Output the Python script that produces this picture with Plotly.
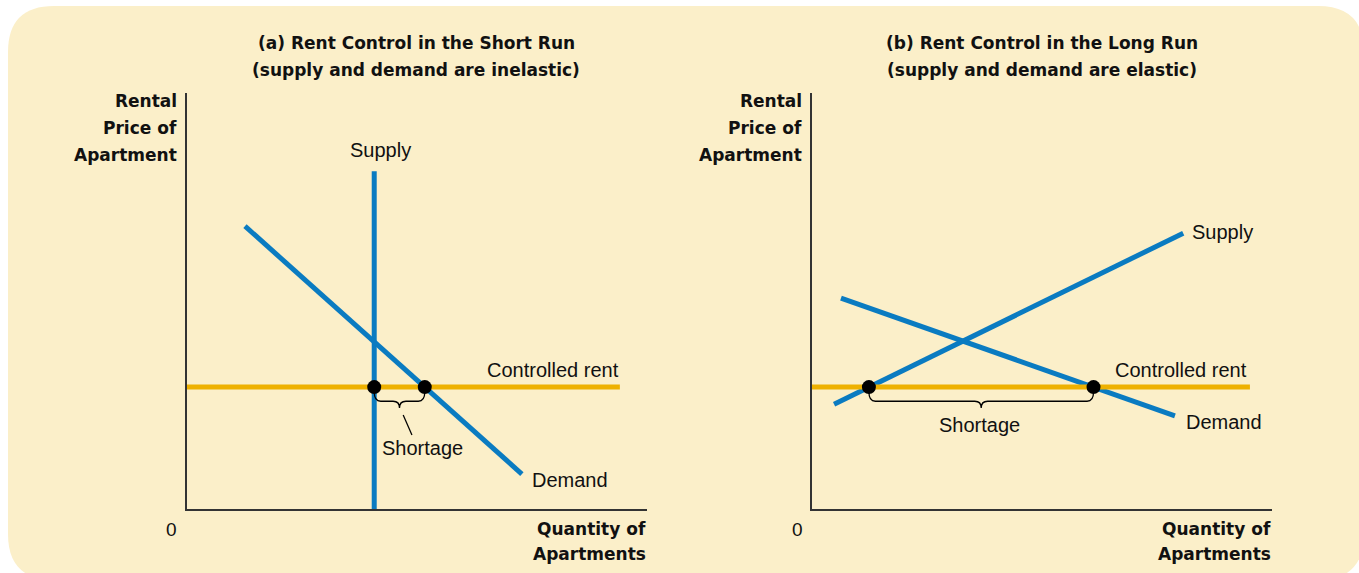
import plotly.graph_objects as go

W, H = 1359, 573

# ---- data (arbitrary price / quantity units, 0-100 on both axes) ----
# Panel (a): short run, inelastic
a_supply_x = [40.7, 40.7]
a_supply_y = [0.0, 81.2]
a_demand_x = [12.6, 72.8]
a_demand_y = [68.0, 8.4]
a_rent_x = [0.0, 94.1]
rent_level = 29.3

# Panel (b): long run, elastic
b_supply_x = [4.8, 80.7]
b_supply_y = [25.2, 66.3]
b_demand_x = [6.3, 78.9]
b_demand_y = [50.7, 22.4]
b_rent_x = [0.0, 95.2]

titles_a = ["(a) Rent Control in the Short Run", "(supply and demand are inelastic)"]
titles_b = ["(b) Rent Control in the Long Run", "(supply and demand are elastic)"]
y_label_lines = ["Rental", "Price of", "Apartment"]
x_label_lines = ["Quantity of", "Apartments"]

BLUE = "#0A7BC1"
GOLD = "#EEB100"
BEIGE = "#FBEFC9"
REG = "Liberation Sans, Arial, sans-serif"
BOLD = "DejaVu Sans, sans-serif"


def x_at(xs, ys, y):
    """x where the straight line through (xs, ys) reaches height y."""
    if xs[0] == xs[1]:
        return xs[0]
    slope = (ys[1] - ys[0]) / (xs[1] - xs[0])
    return xs[0] + (y - ys[0]) / slope


def px(x):
    return x / W


def py(y):
    return 1 - y / H


fig = go.Figure()

panels = [
    dict(xa="x", ya="y", sx=a_supply_x, sy=a_supply_y, dx=a_demand_x, dy=a_demand_y, rx=a_rent_x),
    dict(xa="x2", ya="y2", sx=b_supply_x, sy=b_supply_y, dx=b_demand_x, dy=b_demand_y, rx=b_rent_x),
]

shapes = []
for p in panels:
    fig.add_trace(go.Scatter(x=p["sx"], y=p["sy"], mode="lines", line=dict(color=BLUE, width=5),
                             xaxis=p["xa"], yaxis=p["ya"], hoverinfo="skip"))
    fig.add_trace(go.Scatter(x=p["dx"], y=p["dy"], mode="lines", line=dict(color=BLUE, width=5),
                             xaxis=p["xa"], yaxis=p["ya"], hoverinfo="skip"))
    fig.add_trace(go.Scatter(x=p["rx"], y=[rent_level, rent_level], mode="lines",
                             line=dict(color=GOLD, width=5),
                             xaxis=p["xa"], yaxis=p["ya"], hoverinfo="skip"))
    qs = x_at(p["sx"], p["sy"], rent_level)
    qd = x_at(p["dx"], p["dy"], rent_level)
    p["qs"], p["qd"] = qs, qd
    fig.add_trace(go.Scatter(x=[qs, qd], y=[rent_level, rent_level], mode="markers",
                             marker=dict(color="black", size=14),
                             xaxis=p["xa"], yaxis=p["ya"], hoverinfo="skip"))

    # curly brace under the shortage
    x0, x1 = min(qs, qd), max(qs, qd)
    mid = (x0 + x1) / 2
    y0, yb, yt = rent_level - 1.2, rent_level - 3.4, rent_level - 5.0
    r = 1.4
    path = (f"M {x0},{y0} Q {x0},{yb} {x0 + r},{yb} L {mid - r},{yb} "
            f"Q {mid},{yb} {mid},{yt} Q {mid},{yb} {mid + r},{yb} "
            f"L {x1 - r},{yb} Q {x1},{yb} {x1},{y0}")
    shapes.append(dict(type="path", path=path, xref=p["xa"], yref=p["ya"],
                       line=dict(color="black", width=1.3)))

# leader from brace to the label in panel (a)
shapes.append(dict(type="line", xref="x", yref="y", x0=47.0, y0=22.6, x1=48.9, y1=17.8,
                   line=dict(color="black", width=1.3)))

# rounded beige backdrop
l, t, rr, b = 8, 6, 1364, 580
rad = 46
rxp, ryp = rad / W, rad / H
L, R, T, B = px(l), px(rr), py(t), py(b)
bg = (f"M {L + rxp},{T} L {R - rxp},{T} Q {R},{T} {R},{T - ryp} L {R},{B + ryp} "
      f"Q {R},{B} {R - rxp},{B} L {L + rxp},{B} Q {L},{B} {L},{B + ryp} "
      f"L {L},{T - ryp} Q {L},{T} {L + rxp},{T} Z")
shapes.insert(0, dict(type="path", path=bg, xref="paper", yref="paper",
                      fillcolor=BEIGE, line=dict(width=0), layer="below"))

ann = []


def label(text, x, y, xref, yref, size=20, font=REG, xanchor="center", color="#111"):
    ann.append(dict(text=text, x=x, y=y, xref=xref, yref=yref, showarrow=False,
                    xanchor=xanchor, yanchor="middle",
                    font=dict(family=font, size=size, color=color)))


# curve labels, panel (a)
label("Supply", 42.0, 86.3, "x", "y")
label("Controlled rent", 79.6, 33.4, "x", "y")
label("Demand", 83.3, 7.0, "x", "y")
label("Shortage", 51.3, 14.7, "x", "y")
# curve labels, panel (b)
label("Supply", 89.3, 66.6, "x2", "y2")
label("Controlled rent", 80.2, 33.4, "x2", "y2")
label("Demand", 89.6, 20.9, "x2", "y2")
label("Shortage", 36.5, 20.2, "x2", "y2")

# titles, axis names and origin for each panel
for left, right, centre, titles in [(187, 647, 416, titles_a), (812, 1272, 1042, titles_b)]:
    for i, tline in enumerate(titles):
        label(f"<b>{tline}</b>", px(centre), py(43 + 27 * i), "paper", "paper", size=17, font=BOLD)
    for i, yl in enumerate(y_label_lines):
        label(f"<b>{yl}</b>", px(left - 8), py(101 + 27 * i), "paper", "paper", size=17,
              font=BOLD, xanchor="right")
    for i, xl in enumerate(x_label_lines):
        label(f"<b>{xl}</b>", px(right + 1), py(529 + 25 * i), "paper", "paper", size=17,
              font=BOLD, xanchor="right")
    label("0", px(left - 15), py(529), "paper", "paper", size=19)

axis_common = dict(range=[0, 100], showline=True, linecolor="#333", linewidth=2,
                   showgrid=False, zeroline=False, showticklabels=False, ticks="",
                   fixedrange=True)

fig.update_layout(
    width=W, height=H,
    margin=dict(l=0, r=0, t=0, b=0),
    paper_bgcolor="white", plot_bgcolor="white",
    showlegend=False,
    shapes=shapes, annotations=ann,
    xaxis=dict(domain=[px(187), px(647)], anchor="y", **axis_common),
    yaxis=dict(domain=[py(509), py(93)], anchor="x", **axis_common),
    xaxis2=dict(domain=[px(812), px(1272)], anchor="y2", **axis_common),
    yaxis2=dict(domain=[py(509), py(93)], anchor="x2", **axis_common),
)

fig.write_html("out.html")
